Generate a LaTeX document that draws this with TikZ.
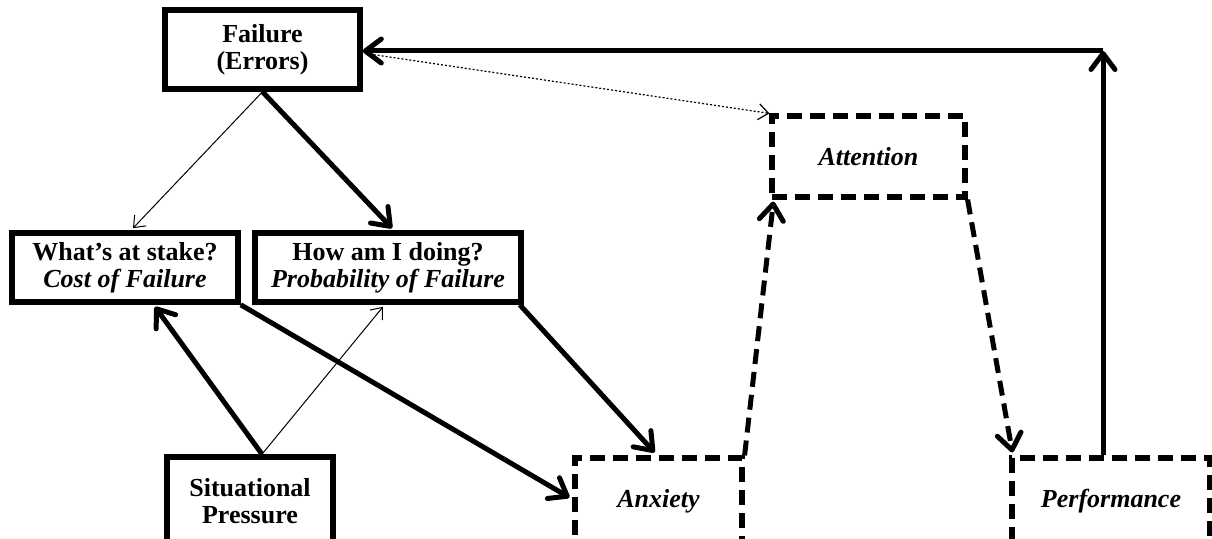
\documentclass[tikz,border=0pt]{standalone}
\usepackage{fontspec}
\setmainfont{Liberation Serif}
\usetikzlibrary{arrows.meta,calc}
\begin{document}
\begin{tikzpicture}[x=0.5pt,y=-0.5pt,
  solidbox/.style={draw,line width=2.8pt,inner sep=0pt,align=center,
    font=\fontsize{13}{13.5}\selectfont\bfseries},
  dashbox/.style={draw,line width=2.6pt,dash pattern=on 7.5pt off 4pt,inner sep=0pt,align=center,
    font=\fontsize{13}{13.5}\selectfont\bfseries\itshape},
  bigtip/.style={-{Straight Barb[length=8pt,width=12pt,round]}},
  smalltip/.style={-{Straight Barb[length=5pt,width=8pt]}},
  thickarrow/.style={line width=2.5pt,bigtip},
  thinarrow/.style={line width=0.5pt,smalltip},
  dasharrow/.style={line width=2.5pt,dash pattern=on 7.5pt off 4pt,bigtip},
  dotarrow/.style={line width=0.6pt,dash pattern=on 1pt off 1pt,smalltip}
]
\useasboundingbox (0,0) rectangle (1212,539);
\node[solidbox,minimum width=97.5pt,minimum height=39.5pt] (fail) at (262.5,49.5) {Failure\\(Errors)};
\node[solidbox,minimum width=113pt,minimum height=34.5pt] (cost) at (125,267.5) {What’s at stake?\\\textit{Cost of Failure}};
\node[solidbox,minimum width=133pt,minimum height=34.5pt] (prob) at (388,267.5) {How am I doing?\\\textit{Probability of Failure}};
\node[solidbox,minimum width=83pt,minimum height=44pt] (sit) at (250,501) {Situational\\Pressure};
\node[dashbox,minimum width=83.5pt,minimum height=43.5pt] (anx) at (658.5,501.5) {Anxiety};
\node[dashbox,minimum width=96.5pt,minimum height=40.5pt] (att) at (868.5,156.5) {Attention};
\node[dashbox,minimum width=99pt,minimum height=43.5pt] (perf) at (1111,501.5) {Performance};
\coordinate (corner) at (1103,51);
\coordinate (failin) at (fail.east |- corner);
\coordinate (sittop) at ($(sit.north)+(12,0)$);
\coordinate (perftop) at ($(perf.north)+(-8,0)$);
\draw[thinarrow] (fail.south) -- ($(cost.north)+(8,-2)$);
\draw[thickarrow] (fail.south) -- ($(prob.north)+(4,-2)$);
\draw[thickarrow] (sittop) -- ($(cost.south)+(30,2)$);
\draw[thinarrow] (sittop) -- ($(prob.south)+(-5,2)$);
\draw[thickarrow] (cost.south east) -- ($(anx.west)+(-3,-4)$);
\draw[thickarrow] ($(prob.south east)+(-4,0)$) -- ($(anx.north)+(-4,-3)$);
\draw[dasharrow] (anx.north east) -- ($(att.south west)+(4,2)$);
\draw[dasharrow] (att.south east) -- ($(perf.north west)+(3,-3)$);
\draw[line width=2.5pt,bigtip] (perftop) -- (corner);
\draw[line width=2.5pt,bigtip] (corner) -- (failin);
\draw[dotarrow] ($(fail.east)+(3,4)$) -- (att.north west);
\end{tikzpicture}
\end{document}
